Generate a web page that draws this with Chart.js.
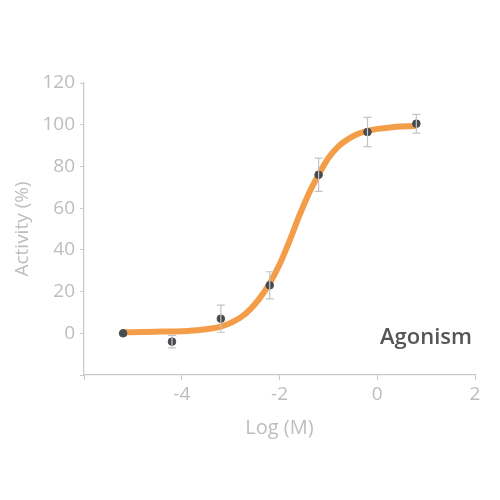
<!DOCTYPE html>
<html>
<head>
<meta charset="utf-8">
<script src="https://cdn.jsdelivr.net/npm/chart.js@4"></script>
<style>
  html, body { margin: 0; padding: 0; background: #fff; }
  #wrap { width: 500px; height: 500px; }
</style>
</head>
<body>
<div id="wrap"><canvas id="chart" width="500" height="500"></canvas></div>
<script>
// measured points
const doseX = [-5.2, -4.2, -3.2, -2.2, -1.2, -0.2, 0.8];
const activity = [0, -4, 7, 23, 76, 96.5, 100.5];
const activityErr = [0, 3, 6.5, 6.5, 8, 7, 4.5];

// fitted curve
const fitX = [-5.2, -4.8, -4.4, -4, -3.6, -3.2, -3, -2.8, -2.6, -2.4, -2.2, -2, -1.8, -1.6, -1.4, -1.2, -1, -0.8, -0.6, -0.4, -0.2, 0, 0.2, 0.4, 0.6, 0.8];
const fitY = [0.5, 0.6, 0.8, 1.0, 1.7, 3.2, 5, 7.5, 11.5, 17, 24, 33, 44, 56, 67, 76, 84, 89.5, 93, 95.5, 97, 98, 98.5, 99, 99.3, 99.5];

const xTicks = [-6, -4, -2, 0, 2];
const yTicks = [-20, 0, 20, 40, 60, 80, 100, 120];

const axisGrey = '#c9c9c9';
const textGrey = '#bdbdbd';

const errorBars = {
    id: 'errorBars',
    afterDatasetsDraw: function(chart) {
        const ctx = chart.ctx;
        const xs = chart.scales.x;
        const ys = chart.scales.y;
        ctx.save();
        ctx.strokeStyle = '#c4c4c4';
        ctx.lineWidth = 1.2;
        doseX.forEach(function(x, i) {
            if (!activityErr[i]) return;
            const px = xs.getPixelForValue(x);
            const top = ys.getPixelForValue(activity[i] + activityErr[i]);
            const bot = ys.getPixelForValue(activity[i] - activityErr[i]);
            ctx.beginPath();
            ctx.moveTo(px, top); ctx.lineTo(px, bot);
            ctx.moveTo(px - 4, top); ctx.lineTo(px + 4, top);
            ctx.moveTo(px - 4, bot); ctx.lineTo(px + 4, bot);
            ctx.stroke();
        });
        ctx.restore();
    }
};

const label = {
    id: 'label',
    afterDraw: function(chart) {
        const ctx = chart.ctx;
        ctx.save();
        ctx.font = '600 22px "Open Sans"';
        ctx.fillStyle = '#555555';
        ctx.textAlign = 'right';
        ctx.textBaseline = 'alphabetic';
        ctx.fillText('Agonism', chart.chartArea.right - 3, chart.scales.y.getPixelForValue(-5));
        ctx.restore();
    }
};

new Chart(document.getElementById('chart'), {
    type: 'scatter',
    data: {
        datasets: [{
            label: 'Data',
            data: doseX.map((x, i) => ({ x: x, y: activity[i] })),
            backgroundColor: '#474b50',
            borderColor: '#474b50',
            pointRadius: 3.8,
            order: 0
        },
        {
            label: 'Fit',
            type: 'line',
            data: fitX.map((x, i) => ({ x: x, y: fitY[i] })),
            borderColor: '#f49d48',
            borderWidth: 6,
            pointRadius: 0,
            cubicInterpolationMode: 'monotone',
            fill: false,
            order: 1
        }]
    },
    options: {
        responsive: false,
        animation: false,
        layout: {
            padding: { left: 6, top: 83, right: 25, bottom: 60 }
        },
        plugins: {
            legend: { display: false },
            tooltip: { enabled: false }
        },
        scales: {
            x: {
                type: 'linear',
                min: -6,
                max: 2,
                afterBuildTicks: function(scale) {
                    scale.ticks = xTicks.map(v => ({ value: v }));
                },
                afterFit: function(scale) {
                    scale.height = 65;
                },
                ticks: {
                    color: textGrey,
                    font: { family: 'Open Sans', size: 19 },
                    padding: 3,
                    callback: function(value) {
                        return value === -6 ? '' : value;
                    }
                },
                grid: {
                    drawOnChartArea: false,
                    color: axisGrey,
                    tickLength: 5
                },
                border: { color: axisGrey, width: 1.2 },
                title: {
                    display: true,
                    text: 'Log (M)',
                    color: textGrey,
                    font: { family: 'Open Sans', size: 20 },
                    padding: { top: 0, bottom: 0 }
                }
            },
            y: {
                min: -20,
                max: 120,
                afterBuildTicks: function(scale) {
                    scale.ticks = yTicks.map(v => ({ value: v }));
                },
                afterFit: function(scale) {
                    scale.width = 78;
                },
                ticks: {
                    color: textGrey,
                    font: { family: 'Open Sans', size: 19 },
                    padding: 5,
                    callback: function(value) {
                        return value === -20 ? '' : value;
                    }
                },
                grid: {
                    drawOnChartArea: false,
                    color: axisGrey,
                    tickLength: 4
                },
                border: { color: axisGrey, width: 1.2 },
                title: {
                    display: true,
                    text: 'Activity (%)',
                    color: textGrey,
                    font: { family: 'Open Sans', size: 19 },
                    padding: { top: 5, bottom: 4 }
                }
            }
        }
    },
    plugins: [errorBars, label]
});
</script>
</body>
</html>
